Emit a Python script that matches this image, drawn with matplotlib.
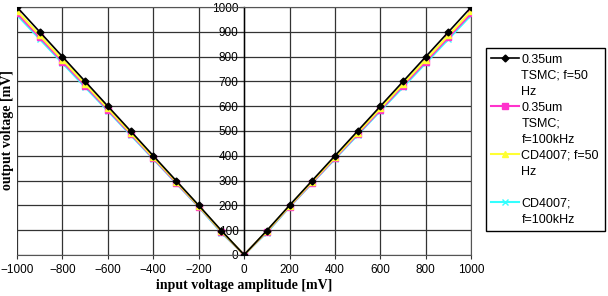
import matplotlib.pyplot as plt
from matplotlib.lines import Line2D

# input amplitude [mV]
x_in = [-1000, -900, -800, -700, -600, -500, -400, -300, -200, -100, 0,
        100, 200, 300, 400, 500, 600, 700, 800, 900, 1000]

# output voltage [mV] for each circuit
tsmc_50 = [1000, 900, 800, 700, 600, 500, 400, 300, 200, 98, 0,
           98, 200, 300, 400, 500, 600, 700, 800, 900, 1000]
tsmc_100k = [975, 878, 780, 683, 585, 488, 390, 292, 195, 93, 0,
             93, 195, 292, 390, 488, 585, 683, 780, 878, 975]
cd_50 = [985, 886, 788, 690, 591, 493, 394, 296, 197, 95, 0,
         95, 197, 296, 394, 493, 591, 690, 788, 886, 985]
cd_100k = [968, 871, 774, 677, 581, 484, 387, 290, 193, 90, 0,
           90, 193, 290, 387, 484, 581, 677, 774, 871, 968]

# legend text, one list of lines per series (as wrapped in the original)
lab_tsmc_50 = ["0.35um", "TSMC; f=50", "Hz"]
lab_tsmc_100k = ["0.35um", "TSMC;", "f=100kHz"]
lab_cd_50 = ["CD4007; f=50", "Hz", " "]
lab_cd_100k = ["CD4007;", "f=100kHz"]

plt.rcParams['font.family'] = ['Liberation Sans', 'DejaVu Sans']

fig = plt.figure(figsize=(6.08, 2.96), dpi=100)
ax = fig.add_axes([0.028, 0.139, 0.747, 0.837])

l4, = ax.plot(x_in, cd_100k, color="#33ffff", marker="x", ms=5, lw=1.5, zorder=3)
l2, = ax.plot(x_in, tsmc_100k, color="#ff33cc", marker="s", ms=4, lw=1.5, zorder=4)
l3, = ax.plot(x_in, cd_50, color="#ffff33", marker="^", ms=5, lw=1.5, zorder=5)
l1, = ax.plot(x_in, tsmc_50, color="black", marker="D", ms=3.5, lw=1.2, zorder=6)

ax.set_xlim(-1000, 1000)
ax.set_ylim(0, 1000)
ax.set_xticks(range(-1000, 1001, 200))
ax.set_yticks(range(0, 1001, 100))
ax.grid(True, color="#333333", lw=0.9)
ax.set_axisbelow(True)

ax.spines['left'].set_position(('data', 0))
ax.spines['left'].set_linewidth(1.0)
for s in ['top', 'right', 'bottom']:
    ax.spines[s].set_color("#555555")
ax.tick_params(axis='both', labelsize=8.5, length=3, color="#333333")
ax.tick_params(axis='y', pad=1)

ax.set_xlabel("input voltage amplitude [mV]", fontsize=10, fontweight="bold",
              family="Liberation Serif", labelpad=2)
fig.text(0.012, 0.56, "output voltage [mV]", rotation=90, fontsize=10,
         fontweight="bold", family="Liberation Serif", ha="center", va="center")

# legend built line by line so the marker sits on the first text line
blank = Line2D([], [], color="none")
handles, texts = [], []
for h, lines in [(l1, lab_tsmc_50), (l2, lab_tsmc_100k), (l3, lab_cd_50), (l4, lab_cd_100k)]:
    for i, t in enumerate(lines):
        handles.append(h if i == 0 else blank)
        texts.append(t)

fig.legend(handles, texts, loc="upper left", bbox_to_anchor=(0.799, 0.838),
           fontsize=9, frameon=True, fancybox=False, edgecolor="black",
           framealpha=1, handlelength=2.2, handletextpad=0.2,
           labelspacing=0.32, borderpad=0.45, borderaxespad=0)

fig.savefig("out.png", dpi=100)
